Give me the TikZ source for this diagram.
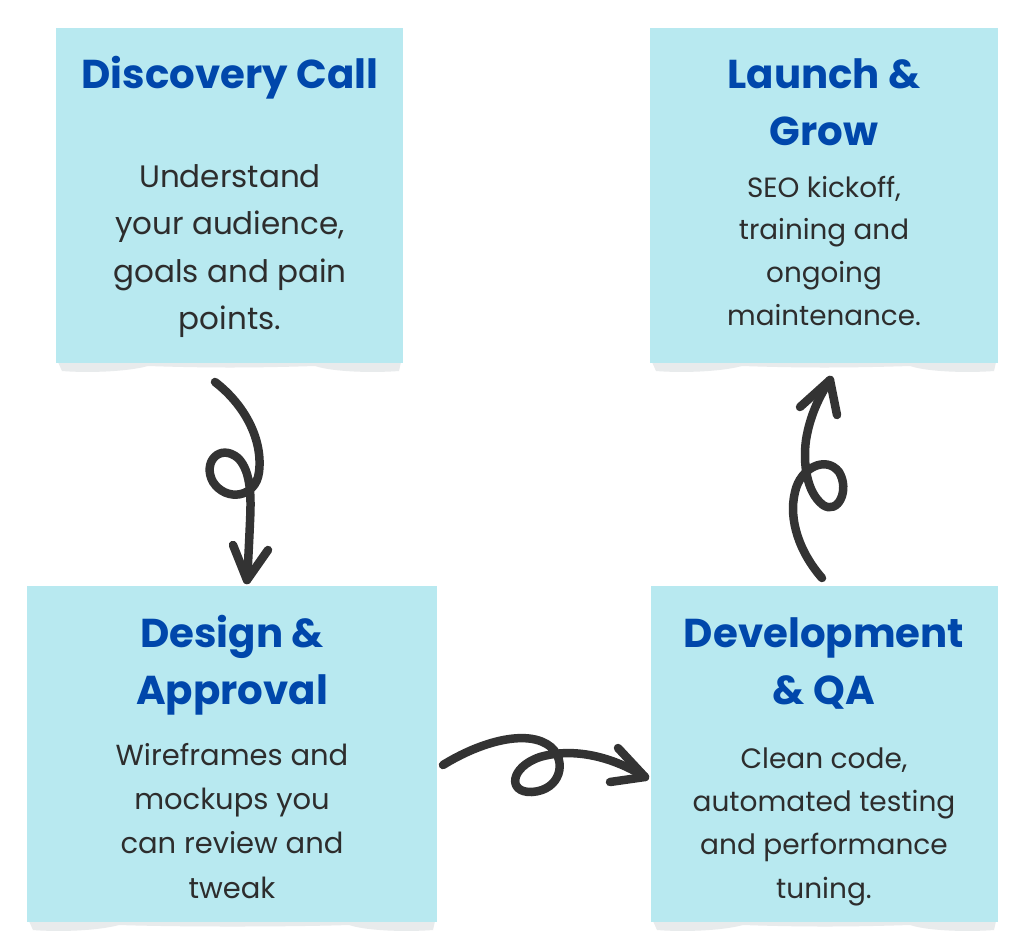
\documentclass[tikz,border=0pt]{standalone}
\usepackage{fontspec}
\setmainfont{Poppins}
\newfontfamily\titlefont{Poppins}[BoldFont={* Bold}]
\newfontfamily\bodyfont{Poppins}
\definecolor{boxfill}{RGB}{184,233,240}
\definecolor{titleblue}{RGB}{0,71,171}
\definecolor{bodygray}{RGB}{45,45,45}
\definecolor{shadowgray}{RGB}{232,235,236}
\definecolor{arrowgray}{RGB}{51,51,51}
\tikzset{
  card/.style={fill=boxfill, draw=none, inner sep=0pt, minimum width=#1},
  cardtitle/.style={anchor=north, inner sep=0pt, align=center, text=titleblue,
     font=\titlefont\bfseries\fontsize{40.3}{57}\selectfont},
  bodytext/.style={anchor=north, inner sep=0pt, align=center, text=bodygray},
  swirl/.style={draw=arrowgray, line width=8.5pt, line cap=round, line join=round},
}
\newcommand{\cardshadow}[3]{% x0, x1, ybottom
  \fill[shadowgray] (#1+2,#3) -- (#2-2,#3) -- (#2-4,#3+9)
    .. controls (#2-30,#3+11) and (#2-70,#3+10) .. (#2-88,#3+4)
    .. controls (#2-150,#3+6) and (#1+150,#3+6) .. (#1+92,#3+4)
    .. controls (#1+70,#3+10) and (#1+30,#3+11) .. (#1+6,#3+9) -- cycle;}
\begin{document}
\begin{tikzpicture}[x=1pt,y=-1pt]
\useasboundingbox[fill=white] (0,0) rectangle (1024,950);
% shadows
\cardshadow{56}{403}{362}
\cardshadow{650}{998}{362}
\cardshadow{27}{437}{921}
\cardshadow{651}{998}{921}
% cards
\node[card=347pt, minimum height=335pt] (c1) at (229.5,195.5) {};
\node[card=348pt, minimum height=335pt] (c2) at (824,195.5) {};
\node[card=410pt, minimum height=336pt] (c3) at (232,754) {};
\node[card=347pt, minimum height=336pt] (c4) at (824.5,754) {};
% texts
\node[cardtitle] (t1) at (230,88-40) {\rule{0pt}{40pt}Discovery Call};
\node[bodytext, font=\bodyfont\fontsize{31}{47.5}\selectfont] (b1) at (230,187-26) {\rule{0pt}{26pt}Understand\\your audience,\\goals and pain\\points.};
\node[cardtitle] (t2) at (824,88-40) {\rule{0pt}{40pt}Launch \&\\Grow};
\node[bodytext, font=\bodyfont\fontsize{27.8}{42.7}\selectfont] (b2) at (824,197-26) {\rule{0pt}{26pt}SEO kickoff,\\training and\\ongoing\\maintenance.};
\node[cardtitle] (t3) at (232,647-40) {\rule{0pt}{40pt}Design \&\\Approval};
\node[bodytext, font=\bodyfont\fontsize{29}{44.3}\selectfont] (b3) at (232,765-26) {\rule{0pt}{26pt}Wireframes and\\mockups you\\can review and\\tweak};
\node[cardtitle] (t4) at (824,647-40) {\rule{0pt}{40pt}Development\\\& QA};
\node[bodytext, font=\bodyfont\fontsize{28}{43.3}\selectfont] (b4) at (824,768-26) {\rule{0pt}{26pt}Clean code,\\automated testing\\and performance\\tuning.};
% arrow 1: discovery -> design
\coordinate (a1s) at (215,382);
\coordinate (a1e) at (247,580);
\draw[swirl] (a1s) .. controls (245,405) and (263,440) .. (259,472)
  .. controls (256,498) and (226,502) .. (213,482)
  .. controls (202,462) and (220,443) .. (238,458)
  .. controls (252,472) and (251,500) .. (250,522)
  .. controls (249,545) and (248,565) .. (a1e);
\draw[swirl] (233,545) -- (a1e) -- (268,550);
% arrow 2: design -> development
\coordinate (a2s) at (443,765);
\coordinate (a2e) at (645,777);
\draw[swirl] (a2s) .. controls (480,742) and (528,728) .. (551,747)
  .. controls (567,761) and (561,790) .. (532,792)
  .. controls (507,793) and (510,767) .. (540,757)
  .. controls (578,746) and (618,760) .. (a2e);
\draw[swirl] (618,748) -- (a2e) -- (610,782);
% arrow 3: development -> launch
\coordinate (a3s) at (822,578);
\coordinate (a3e) at (830,380);
\draw[swirl] (a3s) .. controls (800,553) and (788,520) .. (795,492)
  .. controls (800,468) and (826,455) .. (839,472)
  .. controls (850,490) and (838,515) .. (823,505)
  .. controls (806,492) and (803,462) .. (806,440)
  .. controls (810,415) and (820,395) .. (a3e);
\draw[swirl] (800,407) -- (a3e) -- (837,415);
\end{tikzpicture}
\end{document}
